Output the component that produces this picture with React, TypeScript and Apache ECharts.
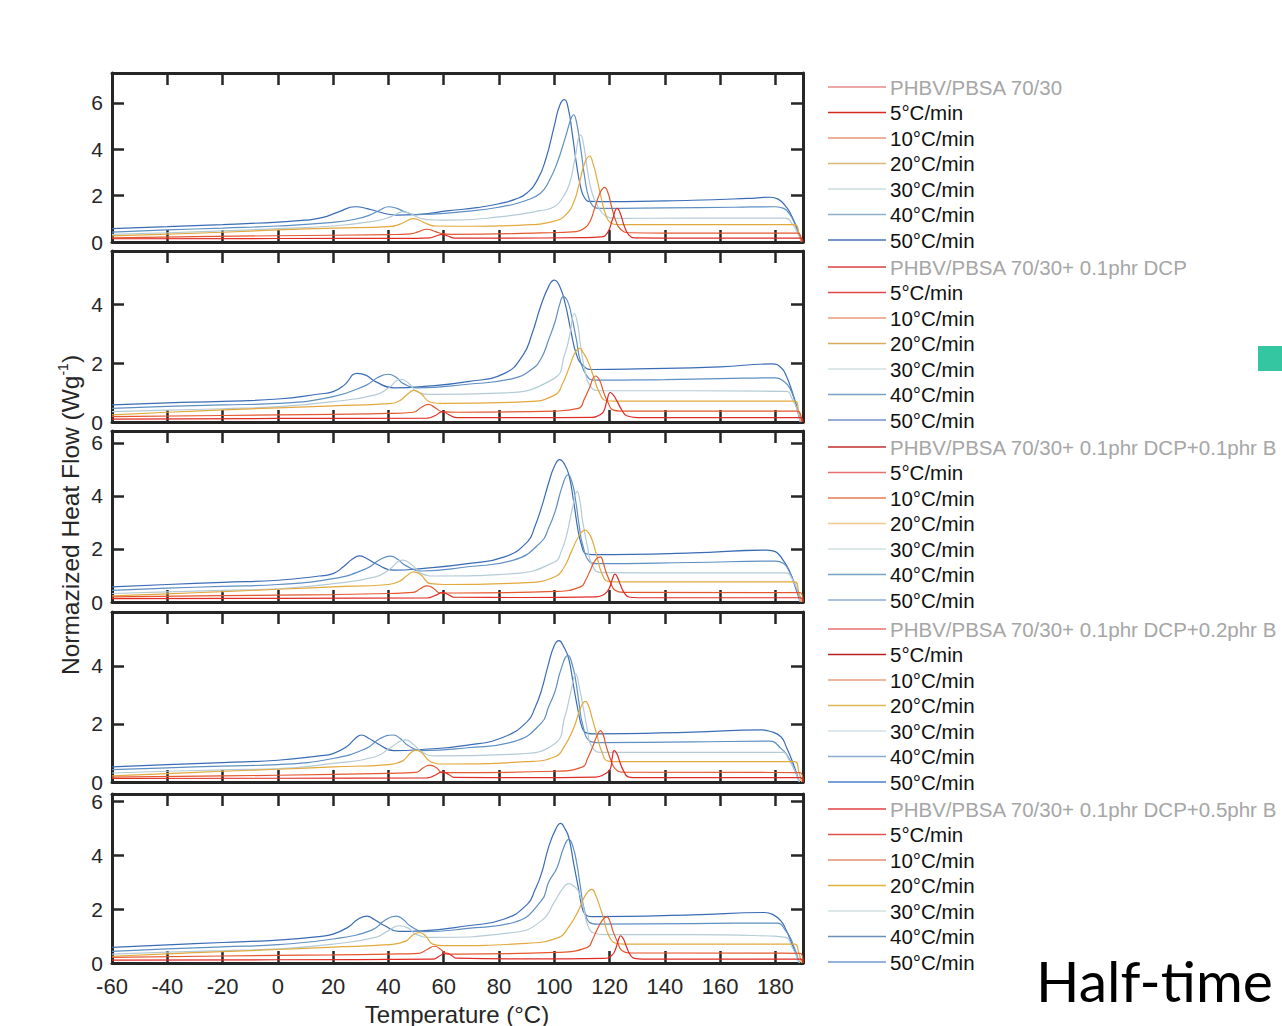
import React, { useEffect, useRef } from "react";
import * as echarts from "echarts";

// ---------- text ----------
const rateLabels = ["5°C/min", "10°C/min", "20°C/min", "30°C/min", "40°C/min", "50°C/min"];
const panelTitles = [
  "PHBV/PBSA 70/30",
  "PHBV/PBSA 70/30+ 0.1phr DCP",
  "PHBV/PBSA 70/30+ 0.1phr DCP+0.1phr B",
  "PHBV/PBSA 70/30+ 0.1phr DCP+0.2phr B",
  "PHBV/PBSA 70/30+ 0.1phr DCP+0.5phr B",
];
const xTitle = "Temperature (°C)";
const sideText = "Half-time";

// ---------- axis ranges ----------
const xMin = -60;
const xMax = 190;
const xInterval = 20;
const yInterval = 2;
const panelYMax = [7.29, 5.8, 6.45, 5.86, 6.26];

// ---------- data: [temperature °C, heat flow W/g] ----------
// Panel 1: PHBV/PBSA 70/30
const p1_5 = [[-60,0.14],[0,0.15],[50,0.16],[55,0.18],[57.5,0.27],[59.5,0.33],[61.5,0.26],[64,0.17],[80,0.17],[110,0.19],[117,0.22],[119.5,0.45],[121,0.95],[122.8,1.45],[124,1.2],[125.3,0.7],[127,0.3],[129,0.18],[150,0.17],[189,0.17],[190,0]];
const p1_10 = [[-60,0.18],[-30,0.23],[0,0.27],[40,0.32],[48,0.35],[51,0.45],[54,0.55],[57,0.45],[60,0.35],[63,0.33],[95,0.39],[108,0.45],[111,0.6],[113,0.9],[115,1.6],[116.7,2.15],[118.2,2.36],[119.5,2.1],[120.8,1.5],[122.3,0.9],[124,0.55],[127,0.4],[140,0.38],[188,0.38],[189.5,0]];
const p1_20 = [[-60,0.26],[-40,0.34],[-20,0.42],[0,0.52],[20,0.6],[40,0.66],[44,0.76],[47,0.93],[48.7,1.01],[51,0.95],[54,0.78],[57,0.69],[70,0.68],[90,0.74],[100,0.9],[104,1.15],[107,1.7],[109,2.5],[111,3.4],[112.8,3.71],[114,3.4],[115.5,2.7],[117,1.9],[118.7,1.15],[120.5,0.82],[123,0.75],[150,0.75],[187,0.75],[188.5,0.4],[189.5,0]];
const p1_30 = [[-60,0.33],[-40,0.4],[-20,0.48],[0,0.58],[20,0.69],[35,0.9],[40,1.05],[43,1.22],[45.3,1.3],[48,1.22],[52,1.01],[57,0.95],[62,0.94],[80,1.08],[95,1.35],[100,1.52],[103,1.9],[105.5,2.5],[107.5,3.6],[109.5,4.62],[110.5,4.3],[112,3.1],[113.5,2.2],[115.5,1.6],[118.7,1.11],[122,1.02],[150,1.03],[183.7,1.03],[186,0.8],[188,0.4],[189.5,0]];
const p1_40 = [[-60,0.43],[-40,0.52],[-20,0.6],[0,0.69],[20,0.85],[28,0.98],[33,1.15],[37,1.38],[40,1.52],[43,1.45],[46,1.3],[50,1.18],[56,1.2],[66,1.3],[80,1.5],[90,1.8],[95,2.1],[98,2.6],[101,3.4],[104,4.5],[106,5.3],[107,5.49],[108,5.2],[109.5,4.1],[111,2.8],[112.5,1.9],[114,1.55],[116,1.45],[140,1.47],[165,1.5],[180,1.52],[183,1.45],[185,1.23],[187,0.8],[189.5,0]];
const p1_50 = [[-60,0.58],[-40,0.66],[-20,0.75],[0,0.86],[10,0.94],[16,1.05],[22,1.3],[28,1.52],[33,1.42],[38,1.25],[43,1.16],[50,1.18],[62,1.35],[72,1.48],[80,1.65],[86,1.85],[90,2.1],[94,2.7],[97,3.6],[100,5.0],[102,5.9],[103.7,6.14],[105,5.8],[106.5,4.7],[108,3.4],[109.5,2.4],[111,1.9],[113,1.75],[120,1.74],[150,1.8],[170,1.88],[178,1.93],[181,1.85],[184,1.5],[186,1.1],[188,0.55],[189.5,0]];

// Panel 2: + 0.1phr DCP
const p2_5 = [[-60,0.1],[0,0.12],[54,0.13],[57,0.22],[59.5,0.35],[62,0.24],[64.5,0.15],[90,0.15],[114,0.16],[116,0.22],[117.8,0.35],[119,0.7],[120.3,1.0],[121.5,0.9],[122.8,0.69],[124.5,0.4],[126.2,0.21],[130,0.15],[189,0.15],[190,0]];
const p2_10 = [[-60,0.18],[-20,0.22],[20,0.26],[40,0.29],[49,0.33],[52,0.5],[54.5,0.6],[57,0.48],[59.5,0.35],[65,0.33],[100,0.37],[108.7,0.46],[111,0.8],[112.5,1.1],[115,1.56],[116.5,1.4],[117.8,1.03],[119.5,0.65],[121.2,0.41],[124,0.37],[188,0.37],[189.5,0]];
const p2_20 = [[-60,0.24],[-40,0.33],[-20,0.41],[0,0.48],[20,0.55],[40,0.62],[44,0.72],[47,0.95],[49.2,1.07],[51.5,0.98],[55.3,0.67],[60,0.63],[90,0.69],[100.3,0.92],[103,1.3],[105.3,1.82],[107.5,2.35],[109.2,2.5],[110.5,2.35],[112,2.1],[114,1.6],[116.2,1.03],[118.7,0.73],[122,0.71],[187,0.71],[188.5,0.35],[189.5,0]];
const p2_30 = [[-60,0.35],[-40,0.4],[-20,0.45],[0,0.52],[20,0.69],[35.3,0.92],[40,1.15],[44.5,1.45],[47.5,1.3],[50.3,1.03],[55.3,0.94],[80,0.98],[100,1.48],[103.7,2.27],[105.5,2.9],[107.3,3.68],[108.5,3.3],[109.5,2.61],[111,1.8],[112.8,1.25],[116.2,1.06],[150,1.06],[184,1.04],[186,0.8],[188,0.4],[189,0]];
const p2_40 = [[-60,0.46],[-40,0.53],[-20,0.58],[0,0.63],[20,0.86],[32,1.25],[36,1.5],[40,1.62],[43,1.5],[45.3,1.31],[50.3,1.16],[68.7,1.28],[85.3,1.48],[92,1.8],[95.3,2.16],[98,2.8],[100.3,3.4],[102,4.0],[103.3,4.25],[104.8,4.1],[106.2,3.63],[108,2.8],[109.5,2.05],[112,1.54],[114.5,1.42],[140,1.44],[160,1.47],[180,1.5],[183,1.38],[185.3,1.14],[187.5,0.55],[189,0]];
const p2_50 = [[-60,0.58],[-40,0.65],[-20,0.7],[0,0.78],[15,0.95],[20,1.03],[24,1.25],[28.7,1.65],[32,1.58],[35.3,1.37],[42,1.16],[52,1.2],[68.7,1.37],[82,1.65],[88.7,2.27],[92,3.0],[95,3.9],[98,4.6],[100,4.81],[102,4.6],[104,4.0],[106,3.1],[108,2.3],[110.3,1.93],[113.7,1.78],[130,1.8],[160,1.87],[178.7,1.97],[182,1.85],[184,1.55],[186,1.05],[187.5,0.6],[189,0]];

// Panel 3: + 0.1phr DCP + 0.1phr B
const p3_5 = [[-60,0.13],[0,0.14],[54,0.15],[57,0.25],[59.5,0.35],[62,0.26],[63.7,0.18],[90,0.17],[115,0.19],[118,0.28],[119.8,0.5],[121,0.85],[122,1.05],[123,0.9],[124,0.63],[125.3,0.35],[127,0.19],[130,0.16],[189,0.16],[190,0]];
const p3_10 = [[-60,0.19],[-20,0.24],[20,0.28],[40,0.32],[49,0.36],[51.5,0.5],[54,0.61],[56.5,0.5],[58.7,0.34],[65,0.34],[100.3,0.4],[109.5,0.57],[111.5,0.85],[112.8,1.14],[115,1.6],[116.7,1.7],[117.8,1.45],[118.7,1.14],[120.5,0.7],[122,0.44],[125,0.36],[189,0.35],[190,0]];
const p3_20 = [[-60,0.23],[-40,0.31],[-20,0.39],[0,0.48],[20,0.57],[40,0.66],[44,0.78],[47,1.02],[49.2,1.14],[51.5,1.05],[55.3,0.69],[60,0.66],[90,0.73],[100.3,0.95],[103.5,1.3],[106.2,1.9],[109,2.5],[111.2,2.71],[112.5,2.6],[113.7,2.34],[115.5,1.7],[117,1.14],[119.5,0.78],[123,0.76],[187,0.76],[188.5,0.35],[189.5,0]];
const p3_30 = [[-60,0.32],[-40,0.38],[-20,0.44],[0,0.5],[20,0.69],[35.3,0.95],[40,1.2],[45.3,1.58],[48.5,1.4],[52,1.07],[57,0.98],[85.3,1.07],[100.3,1.52],[102.5,1.9],[104.5,2.53],[106.5,3.5],[108.3,4.17],[109.3,3.8],[110.3,3.03],[112,2.1],[113.7,1.39],[117,1.11],[150,1.1],[184,1.1],[186,0.88],[188,0.45],[189,0]];
const p3_40 = [[-60,0.44],[-40,0.52],[-20,0.59],[0,0.66],[20,0.88],[32,1.26],[37,1.6],[40.8,1.73],[43.5,1.6],[46,1.39],[52,1.17],[68.7,1.33],[85.3,1.58],[95.3,2.27],[98,2.8],[100.3,3.41],[103,4.4],[105,4.8],[106.5,4.5],[107.8,3.79],[109,2.9],[110.3,2.15],[112.8,1.52],[115.3,1.45],[150,1.49],[180,1.54],[183,1.45],[184.5,1.26],[187,0.7],[189,0]];
const p3_50 = [[-60,0.57],[-40,0.66],[-20,0.74],[0,0.82],[15,0.98],[20,1.07],[23.7,1.33],[27,1.62],[29.5,1.74],[32,1.65],[35.3,1.45],[42,1.2],[52,1.26],[68.7,1.45],[82,1.7],[90.3,2.27],[93,2.85],[95.3,3.54],[98,4.5],[100,5.1],[102,5.37],[103.7,5.2],[105.3,4.8],[107,3.8],[108.7,2.65],[110,2.1],[111.2,1.83],[113.7,1.79],[150,1.85],[177,1.96],[180,1.9],[183,1.55],[185,1.2],[187,0.63],[189,0]];

// Panel 4: + 0.1phr DCP + 0.2phr B
const p4_5 = [[-60,0.12],[0,0.13],[54,0.14],[57,0.24],[59.5,0.35],[62,0.25],[63.7,0.16],[90,0.15],[115,0.17],[118,0.26],[120.3,0.46],[121,0.85],[121.7,1.08],[122.8,0.95],[123.7,0.7],[125,0.4],[127,0.17],[130,0.15],[189,0.15],[190,0]];
const p4_10 = [[-60,0.17],[-20,0.21],[20,0.26],[40,0.3],[50,0.33],[52.5,0.48],[55,0.58],[57.5,0.48],[59.5,0.32],[65,0.32],[100.3,0.37],[110.3,0.52],[112,0.8],[113.7,1.16],[115.5,1.6],[116.7,1.77],[117.8,1.6],[118.7,1.27],[120.5,0.75],[122,0.46],[125,0.34],[189,0.32],[190,0]];
const p4_20 = [[-60,0.21],[-40,0.29],[-20,0.37],[0,0.44],[20,0.52],[40,0.6],[45,0.72],[48,1.0],[50,1.1],[52,1.02],[55.3,0.7],[60,0.62],[90,0.7],[100.3,0.87],[103.5,1.2],[107,1.85],[109.5,2.55],[111.3,2.78],[112.5,2.6],[113.7,2.2],[115.5,1.6],[117,1.1],[119.5,0.72],[123,0.7],[187,0.7],[188.5,0.35],[189.5,0]];
const p4_30 = [[-60,0.31],[-40,0.37],[-20,0.42],[0,0.46],[20,0.64],[35.3,0.87],[41,1.2],[46.2,1.45],[49,1.3],[52,1.04],[57,0.9],[85.3,0.96],[100.3,1.33],[103.7,2.2],[106,3.1],[107.8,3.73],[109,3.3],[110.3,2.67],[112,1.8],[113.3,1.27],[117,1.02],[150,1.02],[182.5,1.02],[185,0.75],[187,0.4],[188.7,0]];
const p4_40 = [[-60,0.43],[-40,0.49],[-20,0.55],[0,0.6],[20,0.81],[32,1.16],[37,1.5],[41.7,1.62],[44.5,1.48],[47,1.27],[52,1.08],[68.7,1.18],[85.3,1.39],[95.3,2.03],[98,2.6],[100.3,3.13],[102.5,3.9],[105,4.37],[106.5,4.05],[107.8,3.48],[109,2.7],[110.3,1.97],[112.8,1.41],[115.3,1.36],[150,1.38],[177.8,1.41],[182,1.16],[185,0.8],[188.7,0]];
const p4_50 = [[-60,0.52],[-40,0.6],[-20,0.67],[0,0.75],[15,0.9],[20,0.98],[25,1.22],[28,1.5],[30.3,1.62],[33,1.5],[36,1.33],[42,1.08],[52,1.12],[68.7,1.27],[82,1.56],[90.3,2.09],[93,2.55],[95.3,3.13],[98,4.1],[100,4.7],[101.7,4.87],[103.5,4.65],[105.3,4.23],[107,3.3],[108.7,2.43],[110,1.9],[111.2,1.71],[113.7,1.66],[150,1.72],[175,1.8],[178,1.75],[182,1.56],[184,1.2],[186.2,0.7],[188.7,0]];

// Panel 5: + 0.1phr DCP + 0.5phr B
const p5_5 = [[-60,0.11],[0,0.12],[56,0.14],[58.5,0.26],[60.7,0.37],[63,0.27],[64.5,0.18],[90,0.15],[118,0.17],[121,0.3],[122.3,0.55],[123.2,0.85],[124,1.01],[125,0.9],[126.2,0.58],[127.5,0.3],[129,0.17],[132,0.14],[189,0.14],[190,0]];
const p5_10 = [[-60,0.21],[-20,0.26],[20,0.3],[40,0.33],[51,0.36],[54,0.5],[56.7,0.62],[59,0.5],[61.2,0.33],[66,0.33],[100.3,0.39],[112,0.58],[114,0.9],[115.3,1.19],[117.5,1.6],[119,1.71],[120.3,1.5],[121.2,1.19],[123,0.75],[124.5,0.46],[128,0.37],[189,0.36],[190,0]];
const p5_20 = [[-60,0.25],[-40,0.34],[-20,0.42],[0,0.5],[20,0.59],[40,0.68],[46,0.8],[49,1.05],[51.2,1.13],[53.5,1.0],[56,0.7],[60,0.64],[90,0.73],[101.7,0.95],[105,1.3],[108.7,1.93],[111.5,2.55],[113.7,2.73],[115,2.5],[116.2,2.18],[118,1.6],[119.5,1.07],[122,0.74],[125,0.7],[187,0.7],[188.5,0.35],[189.5,0]];
const p5_30 = [[-60,0.33],[-40,0.4],[-20,0.46],[0,0.52],[20,0.7],[35.3,0.95],[40,1.2],[44,1.38],[47,1.3],[50.3,1.05],[55.3,0.95],[85.3,1.13],[95.3,1.56],[100.3,2.3],[103,2.75],[105.3,2.94],[107,2.85],[108.7,2.67],[110.5,2.1],[112,1.44],[114.5,1.1],[118,1.05],[150,1.05],[178,1.0],[183.7,0.95],[186,0.6],[188.7,0]];
const p5_40 = [[-60,0.43],[-40,0.52],[-20,0.6],[0,0.68],[20,0.89],[34,1.22],[39,1.6],[42.8,1.74],[45.5,1.6],[47.8,1.38],[52.8,1.16],[68.7,1.28],[85.3,1.5],[95.3,2.3],[98,3.0],[101,3.53],[103.5,4.3],[105.3,4.58],[106.8,4.3],[108.2,3.66],[109.5,2.8],[110.7,2.06],[112.8,1.5],[115.3,1.44],[150,1.46],[180.5,1.48],[183.8,1.19],[186,0.8],[188.7,0]];
const p5_50 = [[-60,0.58],[-40,0.67],[-20,0.76],[0,0.85],[15,0.98],[20,1.07],[25.3,1.32],[29,1.62],[32.3,1.74],[35,1.6],[38.7,1.38],[43.7,1.17],[52,1.19],[68.7,1.38],[82,1.63],[90.3,2.18],[93,2.7],[95.3,3.29],[98,4.3],[100.5,4.95],[102.3,5.17],[104,4.95],[105.3,4.64],[107,3.7],[108.7,2.8],[110,2.1],[111.2,1.81],[113.7,1.72],[150,1.78],[176,1.87],[179,1.8],[182,1.56],[184,1.2],[186,0.7],[188.7,0]];

const panelCurves = [
  [p1_5, p1_10, p1_20, p1_30, p1_40, p1_50],
  [p2_5, p2_10, p2_20, p2_30, p2_40, p2_50],
  [p3_5, p3_10, p3_20, p3_30, p3_40, p3_50],
  [p4_5, p4_10, p4_20, p4_30, p4_40, p4_50],
  [p5_5, p5_10, p5_20, p5_30, p5_40, p5_50],
];

// ---------- styles ----------
const FONT = '"Liberation Sans", Arial, Helvetica, sans-serif';
const INK = "#262626";
const curveColors = ["#e02a24", "#e5572e", "#e2a93d", "#b4cbd6", "#5e8fc2", "#3a6cb6"];
const legendColors = [
  ["#e88a8a", "#d42a20", "#e8967a", "#d8b878", "#c8dcdc", "#8db0cc", "#4a72b8"],
  ["#d84040", "#e04848", "#e89a7a", "#d8aa60", "#d0e0e0", "#7aa0c4", "#7090c8"],
  ["#c03030", "#e87070", "#e87a50", "#f0c890", "#d0e0e0", "#7aa0c4", "#90acd8"],
  ["#e87070", "#b82020", "#e8a080", "#e0b850", "#d0e0e8", "#8aaccc", "#4a80c8"],
  ["#e04040", "#e05050", "#e09070", "#e0b040", "#d0e0e0", "#6a90b8", "#7098d0"],
];
const gridBoxes = [
  { top: 73, height: 169 },
  { top: 251, height: 171 },
  { top: 431, height: 171 },
  { top: 612, height: 170 },
  { top: 794, height: 169 },
];
const legendTops = [87, 267, 447, 629, 809];

function buildOption() {
  const grid: any[] = [];
  const xAxis: any[] = [];
  const yAxis: any[] = [];
  const series: any[] = [];
  const axisLine = { show: true, onZero: false, lineStyle: { color: INK, width: 3 } };
  const axisTick = { show: true, inside: true, length: 12, lineStyle: { color: INK, width: 2.5 } };

  gridBoxes.forEach((g, i) => {
    grid.push({ left: 112, width: 691, top: g.top, height: g.height, show: false });
    const xBase = {
      type: "value", gridIndex: i, min: xMin, max: xMax, interval: xInterval,
      axisLine, axisTick, splitLine: { show: false },
    };
    xAxis.push({
      ...xBase, position: "bottom",
      axisLabel: i === gridBoxes.length - 1
        ? {
            show: true, color: INK, fontSize: 22, fontFamily: FONT, margin: 12,
            formatter: (v: number) => (v <= 180 ? String(v) : ""),
          }
        : { show: false },
    });
    xAxis.push({ ...xBase, position: "top", axisLabel: { show: false } });
    const yBase = {
      type: "value", gridIndex: i, min: 0, max: panelYMax[i], interval: yInterval,
      axisLine, axisTick, splitLine: { show: false },
    };
    yAxis.push({
      ...yBase, position: "left",
      axisLabel: {
        show: true, color: INK, fontSize: 21, fontFamily: FONT, margin: 9,
        formatter: (v: number) => (Math.abs(v / 2 - Math.round(v / 2)) < 1e-6 ? String(v) : ""),
      },
    });
    yAxis.push({ ...yBase, position: "right", axisLabel: { show: false } });

    const curves = panelCurves[i];
    for (let k = curves.length - 1; k >= 0; k--) {
      series.push({
        type: "line", name: rateLabels[k], xAxisIndex: 2 * i, yAxisIndex: 2 * i,
        data: curves[k], showSymbol: false, symbol: "none", smooth: 0.5,
        lineStyle: { width: 1.2, color: curveColors[k] }, clip: true, silent: true,
      });
    }
  });

  const graphic: any[] = [];
  legendTops.forEach((top, p) => {
    const entries = [panelTitles[p], ...rateLabels];
    entries.forEach((txt, k) => {
      const y = top + k * 25.5;
      graphic.push({
        type: "line", silent: true,
        shape: { x1: 828, y1: y, x2: 886, y2: y },
        style: { stroke: legendColors[p][k], lineWidth: 1.5 },
      });
      graphic.push({
        type: "text", silent: true, x: 890, y,
        style: {
          text: txt, fill: k === 0 ? "#a6a6a6" : "#111111",
          fontSize: 20.5, fontFamily: FONT, verticalAlign: "middle", align: "left",
        },
      });
    });
  });
  graphic.push({
    type: "text", silent: true, x: 457, y: 1014,
    style: { text: xTitle, fill: INK, fontSize: 24, fontFamily: FONT, align: "center", verticalAlign: "middle" },
  });
  graphic.push({
    type: "text", silent: true, x: 70, y: 515, rotation: Math.PI / 2,
    style: {
      text: "{a|Normazized Heat Flow (Wg}{s|-1}{a|)}",
      align: "center", verticalAlign: "middle", fill: INK,
      rich: {
        a: { fontSize: 24.5, fontFamily: FONT, fill: INK, lineHeight: 28 },
        s: { fontSize: 14, fontFamily: FONT, fill: INK, verticalAlign: "top", lineHeight: 28 },
      },
    },
  });
  graphic.push({
    type: "text", silent: true, x: 1036, y: 980,
    style: { text: sideText, fill: "#000000", fontSize: 57, fontFamily: "Lato, 'Open Sans', sans-serif", align: "left", verticalAlign: "middle" },
  });
  graphic.push({
    type: "rect", silent: true, shape: { x: 1258, y: 346, width: 30, height: 25 },
    style: { fill: "#33c6a0" },
  });

  return {
    animation: false,
    backgroundColor: "#ffffff",
    grid, xAxis, yAxis, series, graphic,
  };
}

export default function App() {
  const ref = useRef<HTMLDivElement>(null);
  useEffect(() => {
    if (!ref.current) return;
    const chart = echarts.init(ref.current, undefined, { renderer: "svg" });
    chart.setOption(buildOption() as any);
    return () => chart.dispose();
  }, []);
  return (
    <div
      ref={ref}
      style={{ position: "fixed", left: 0, top: 0, width: 1282, height: 1026, background: "#fff" }}
    />
  );
}
